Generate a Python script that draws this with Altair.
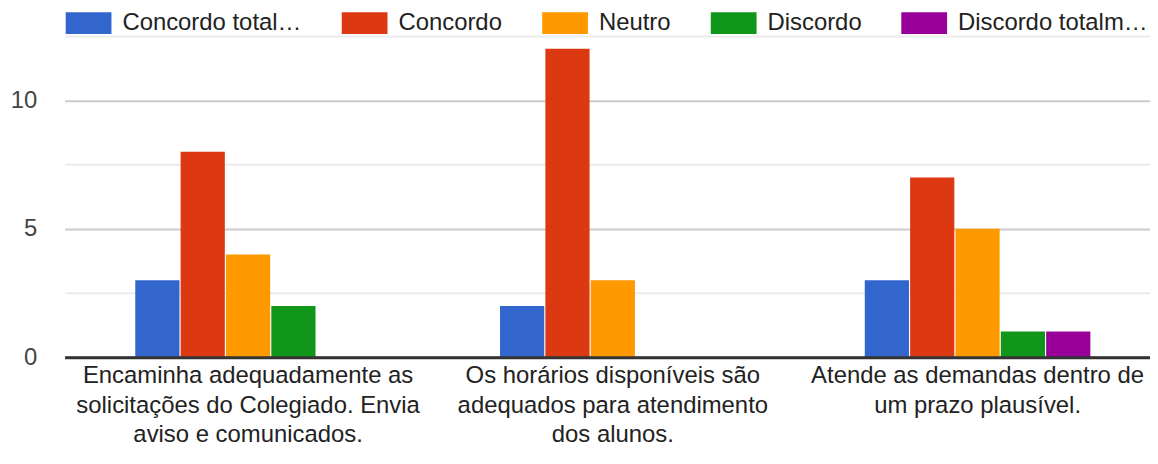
import json
import altair as alt
import pandas as pd

# ---- data ----
questions = [
    "Encaminha adequadamente as solicitações do Colegiado. Envia aviso e comunicados.",
    "Os horários disponíveis são adequados para atendimento dos alunos.",
    "Atende as demandas dentro de um prazo plausível.",
]
question_lines = [
    ["Encaminha adequadamente as", "solicitações do Colegiado. Envia", "aviso e comunicados."],
    ["Os horários disponíveis são", "adequados para atendimento", "dos alunos."],
    ["Atende as demandas dentro de", "um prazo plausível."],
]
answers = ["Concordo totalmente", "Concordo", "Neutro", "Discordo", "Discordo totalmente"]
answer_labels = ["Concordo total…", "Concordo", "Neutro", "Discordo", "Discordo totalm…"]
colors = ["#3366cc", "#dc3912", "#ff9900", "#109618", "#990099"]

concordo_totalmente = [3, 2, 3]
concordo = [8, 12, 7]
neutro = [4, 3, 5]
discordo = [2, 0, 1]
discordo_totalmente = [0, 0, 1]

series = [concordo_totalmente, concordo, neutro, discordo, discordo_totalmente]
rows = []
for a, vals in zip(answers, series):
    for q, v in zip(questions, vals):
        rows.append({"pergunta": q, "resposta": a, "n": v})
df = pd.DataFrame(rows)

y_grid = [0, 2.5, 5, 7.5, 10, 12.5]


def map_expr(keys, vals, default="datum.label"):
    expr = default
    for k, v in reversed(list(zip(keys, vals))):
        expr = f"datum.label === {json.dumps(k, ensure_ascii=False)} ? {json.dumps(v, ensure_ascii=False)} : ({expr})"
    return expr


x_label_expr = map_expr(questions, question_lines)
legend_label_expr = map_expr(answers, answer_labels)

W = 1091
H = 323
FONT = "Arial, Liberation Sans, sans-serif"

chart = (
    alt.Chart(df)
    .mark_bar()
    .encode(
        x=alt.X(
            "pergunta:N",
            sort=questions,
            scale=alt.Scale(paddingInner=0.3815, paddingOuter=0.1785, align=0.542),
            axis=alt.Axis(
                title=None,
                labelAngle=0,
                labelFontSize=24,
                labelFont=FONT,
                labelColor="#222222",
                labelLineHeight=30,
                labelPadding=6,
                labelLimit=0,
                labelOverlap=False,
                ticks=False,
                tickSize=0,
                domain=True,
                domainColor="#333333",
                domainWidth=3,
                grid=False,
                zindex=1,
                labelExpr=x_label_expr,
            ),
        ),
        xOffset=alt.XOffset(
            "resposta:N",
            sort=answers,
            scale=alt.Scale(domain=answers, paddingInner=0.025, paddingOuter=0),
        ),
        y=alt.Y(
            "n:Q",
            scale=alt.Scale(domain=[0, 12.5], nice=False),
            axis=alt.Axis(
                title=None,
                values=y_grid,
                labelExpr="datum.value % 5 === 0 ? datum.label : ''",
                labelFontSize=24,
                labelFont=FONT,
                labelColor="#444444",
                labelPadding=28,
                ticks=False,
                tickSize=0,
                domain=False,
                gridColor={
                    "condition": [
                        {"test": "datum.value === 0", "value": "#333333"},
                        {"test": "datum.value % 5 === 0", "value": "#cccccc"},
                    ],
                    "value": "#ebebeb",
                },
                gridWidth=2,
            ),
        ),
        color=alt.Color(
            "resposta:N",
            sort=answers,
            scale=alt.Scale(domain=answers, range=colors),
            legend=alt.Legend(
                title=None,
                orient="none",
                legendX=0,
                legendY=-25,
                direction="horizontal",
                columns=5,
                symbolType="M-1,-1H3.1818V1H-1Z",
                symbolSize=484,
                symbolStrokeWidth=0,
                symbolOpacity=1,
                labelFontSize=24,
                labelFont=FONT,
                labelColor="#222222",
                labelOffset=34,
                labelLimit=400,
                columnPadding=38.5,
                padding=0,
                labelExpr=legend_label_expr,
            ),
        ),
    )
    .properties(
        width=W,
        height=H,
        background="white",
        padding={"left": 2, "top": 2, "right": 0, "bottom": 0},
    )
    .configure_view(strokeWidth=0)
)

chart.save("out.html", embed_options={"renderer": "svg", "actions": False})
